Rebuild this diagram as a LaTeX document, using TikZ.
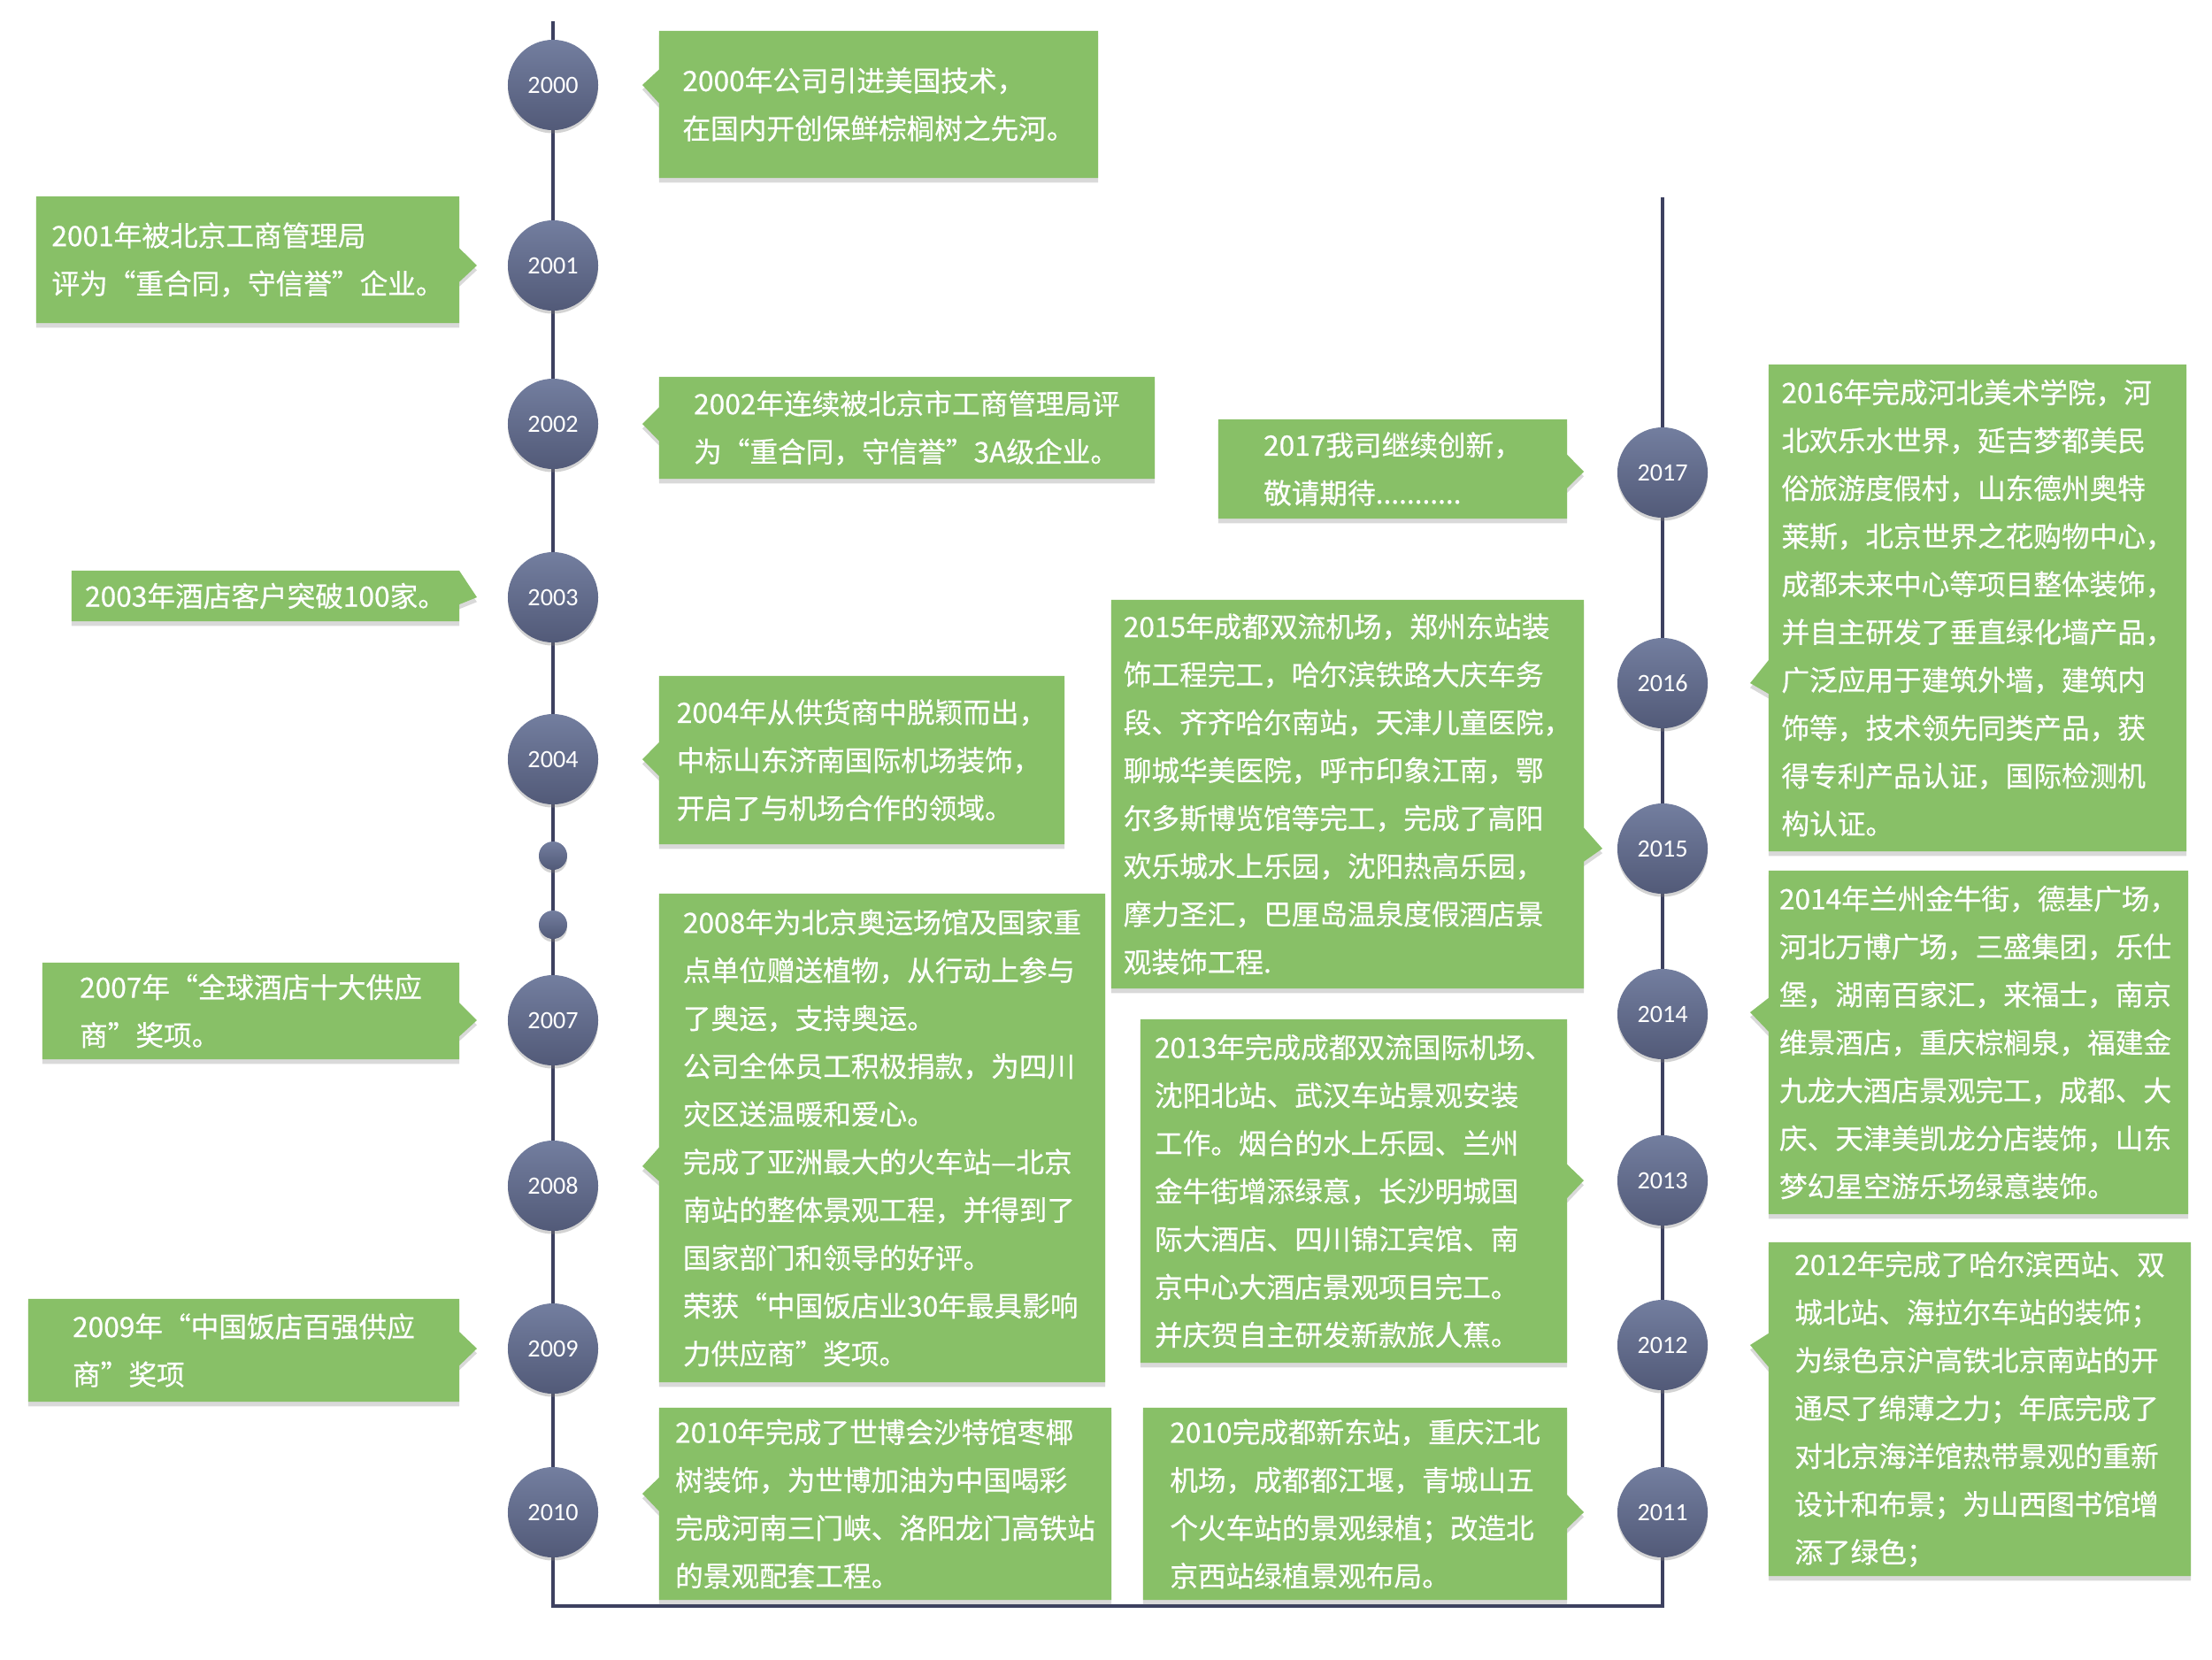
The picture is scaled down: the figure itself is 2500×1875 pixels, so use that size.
\documentclass[tikz,border=0pt]{standalone}
\usepackage{fontspec}
\newfontfamily\cjkfont{Noto Sans CJK SC}[FakeBold=0.6]
\newfontfamily\yearfont{Carlito}
\usepackage{xcolor}
\usetikzlibrary{shapes.callouts,shadows}

\definecolor{boxgreen}{HTML}{88C067}
\definecolor{dottop}{HTML}{737E9F}
\definecolor{dotbot}{HTML}{525A78}
\definecolor{lineblue}{HTML}{3D4160}

\tikzset{
  yearnode/.style={circle, minimum size=1.02cm, inner sep=0pt,
    top color=dottop, bottom color=dotbot, text=white,
    font=\yearfont\fontsize{8}{9}\selectfont,
    drop shadow={shadow xshift=0pt, shadow yshift=-1pt, opacity=0.35}},
  smalldot/.style={yearnode, minimum size=0.32cm},
  eventbox/.style={rectangle callout, fill=boxgreen, text=white, align=left,
    inner sep=0pt, callout pointer width=0.38cm,
    font=\cjkfont\fontsize{9}{15.4}\selectfont,
    drop shadow={shadow xshift=0pt, shadow yshift=-1.5pt, opacity=0.3}},
  timeline/.style={draw=lineblue, line width=1.4pt}
}

\begin{document}
\begin{tikzpicture}[x=0.01cm, y=-0.01cm]
      \useasboundingbox (0,0) rectangle (2500,1875);
      % the two axes, joined at the bottom
      \coordinate (ltop) at (625,24);
      \coordinate (lbot) at (625,1815);
      \coordinate (rbot) at (1879,1815);
      \coordinate (rtop) at (1879,223);
      \draw[timeline] (ltop) -- (lbot) -- (rbot) -- (rtop);

      % years, left axis
      \node[yearnode] (y2000) at (625,96) {2000};
      \node[yearnode] (y2001) at (625,300) {2001};
      \node[yearnode] (y2002) at (625,479) {2002};
      \node[yearnode] (y2003) at (625,675) {2003};
      \node[yearnode] (y2004) at (625,858) {2004};
      \node[smalldot] (dotA) at (625,967) {};
      \node[smalldot] (dotB) at (625,1045) {};
      \node[yearnode] (y2007) at (625,1153) {2007};
      \node[yearnode] (y2008) at (625,1340) {2008};
      \node[yearnode] (y2009) at (625,1524) {2009};
      \node[yearnode] (y2010) at (625,1709) {2010};
      % years, right axis
      \node[yearnode] (y2011) at (1879,1709) {2011};
      \node[yearnode] (y2012) at (1879,1520) {2012};
      \node[yearnode] (y2013) at (1879,1334) {2013};
      \node[yearnode] (y2014) at (1879,1146) {2014};
      \node[yearnode] (y2015) at (1879,959) {2015};
      \node[yearnode] (y2016) at (1879,772) {2016};
      \node[yearnode] (y2017) at (1879,534) {2017};

      % events
      \node[eventbox, minimum width=4.96cm, minimum height=1.66cm, callout absolute pointer={(726,96)}] (e2000) at (993,118) {2000年公司引进美国技术，\\在国内开创保鲜棕榈树之先河。};
      \node[eventbox, minimum width=4.78cm, minimum height=1.43cm, callout absolute pointer={(539,300)}] (e2001) at (280,293.5) {2001年被北京工商管理局\\评为“重合同，守信誉”企业。};
      \node[eventbox, minimum width=5.60cm, minimum height=1.15cm, callout absolute pointer={(726,479)}] (e2002) at (1025,483.5) {2002年连续被北京市工商管理局评\\为“重合同，守信誉”3A级企业。};
      \node[eventbox, minimum width=4.38cm, minimum height=0.57cm, callout absolute pointer={(539,675)}] (e2003) at (300,673.5) {2003年酒店客户突破100家。};
      \node[eventbox, minimum width=4.58cm, minimum height=1.90cm, callout absolute pointer={(726,858)}] (e2004) at (974,859) {2004年从供货商中脱颖而出，\\中标山东济南国际机场装饰，\\开启了与机场合作的领域。};
      \node[eventbox, minimum width=4.71cm, minimum height=1.09cm, callout absolute pointer={(539,1153)}] (e2007) at (283.5,1142.5) {2007年“全球酒店十大供应\\商”奖项。};
      \node[eventbox, minimum width=5.04cm, minimum height=5.52cm, callout absolute pointer={(726,1318)}] (e2008) at (997,1286) {2008年为北京奥运场馆及国家重\\点单位赠送植物，从行动上参与\\了奥运，支持奥运。\\公司全体员工积极捐款，为四川\\灾区送温暖和爱心。\\完成了亚洲最大的火车站—北京\\南站的整体景观工程，并得到了\\国家部门和领导的好评。\\荣获“中国饭店业30年最具影响\\力供应商”奖项。};
      \node[eventbox, minimum width=4.87cm, minimum height=1.16cm, callout absolute pointer={(539,1524)}] (e2009) at (275.5,1526) {2009年“中国饭店百强供应\\商”奖项};
      \node[eventbox, minimum width=5.11cm, minimum height=2.17cm, callout absolute pointer={(726,1688)}] (e2010) at (1000.5,1699.5) {2010年完成了世博会沙特馆枣椰\\树装饰，为世博加油为中国喝彩\\完成河南三门峡、洛阳龙门高铁站\\的景观配套工程。};
      \node[eventbox, minimum width=4.79cm, minimum height=2.17cm, callout absolute pointer={(1790,1709)}] (e2011) at (1531.5,1699.5) {2010完成都新东站，重庆江北\\机场，成都都江堰，青城山五\\个火车站的景观绿植；改造北\\京西站绿植景观布局。};
      \node[eventbox, minimum width=4.77cm, minimum height=3.77cm, callout absolute pointer={(1978,1520)}] (e2012) at (2237.5,1592.5) {2012年完成了哈尔滨西站、双\\城北站、海拉尔车站的装饰；\\为绿色京沪高铁北京南站的开\\通尽了绵薄之力；年底完成了\\对北京海洋馆热带景观的重新\\设计和布景；为山西图书馆增\\添了绿色；};
      \node[eventbox, minimum width=4.82cm, minimum height=3.88cm, callout absolute pointer={(1790,1334)}] (e2013) at (1530,1346) {2013年完成成都双流国际机场、\\沈阳北站、武汉车站景观安装\\工作。烟台的水上乐园、兰州\\金牛街增添绿意，长沙明城国\\际大酒店、四川锦江宾馆、南\\京中心大酒店景观项目完工。\\并庆贺自主研发新款旅人蕉。};
      \node[eventbox, minimum width=4.74cm, minimum height=3.88cm, callout absolute pointer={(1978,1144)}] (e2014) at (2236,1178) {2014年兰州金牛街，德基广场，\\河北万博广场，三盛集团，乐仕\\堡，湖南百家汇，来福士，南京\\维景酒店，重庆棕榈泉，福建金\\九龙大酒店景观完工，成都、大\\庆、天津美凯龙分店装饰，山东\\梦幻星空游乐场绿意装饰。};
      \node[eventbox, minimum width=5.34cm, minimum height=4.39cm, callout absolute pointer={(1811,959)}] (e2015) at (1523,897.5) {2015年成都双流机场，郑州东站装\\饰工程完工，哈尔滨铁路大庆车务\\段、齐齐哈尔南站，天津儿童医院，\\聊城华美医院，呼市印象江南，鄂\\尔多斯博览馆等完工，完成了高阳\\欢乐城水上乐园，沈阳热高乐园，\\摩力圣汇，巴厘岛温泉度假酒店景\\观装饰工程.};
      \node[eventbox, minimum width=4.72cm, minimum height=5.50cm, callout absolute pointer={(1978,772)}] (e2016) at (2235,687) {2016年完成河北美术学院，河\\北欢乐水世界，延吉梦都美民\\俗旅游度假村，山东德州奥特\\莱斯，北京世界之花购物中心，\\成都未来中心等项目整体装饰，\\并自主研发了垂直绿化墙产品，\\广泛应用于建筑外墙，建筑内\\饰等，技术领先同类产品，获\\得专利产品认证，国际检测机\\构认证。};
      \node[eventbox, minimum width=3.94cm, minimum height=1.12cm, callout absolute pointer={(1790,533)}] (e2017) at (1574,530) {2017我司继续创新，\\敬请期待...........};
\end{tikzpicture}
\end{document}
